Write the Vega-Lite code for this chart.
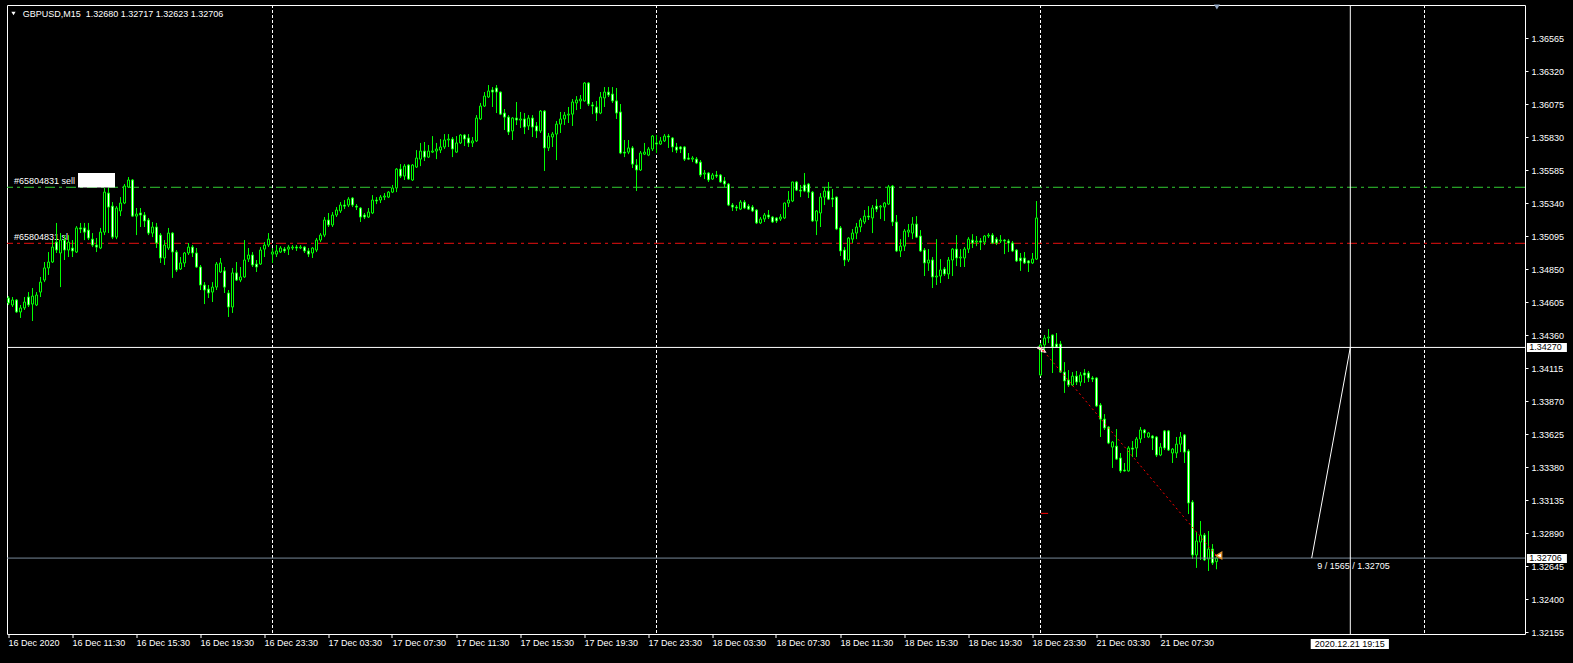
{
"$schema":"https://vega.github.io/schema/vega-lite/v6.json",
"width":1518,"height":629,
"autosize":{"type":"none"},
"padding":{"left":7,"top":5,"right":48,"bottom":29},
"background":"#000000",
"config":{"view":{"stroke":"#ffffff","strokeWidth":1,"fill":"#000000"},"font":"Liberation Sans","axis":{"labelOverlap":false,"labelFlush":false},"scale":{"continuousPadding":0}},
"datasets":{"bars":[
{"i":0,"o":1.34637,"h":1.34651,"l":1.34585,"c":1.34600},
{"i":1,"o":1.34585,"h":1.34644,"l":1.34570,"c":1.34622},
{"i":2,"o":1.34622,"h":1.34629,"l":1.34526,"c":1.34533},
{"i":3,"o":1.34533,"h":1.34585,"l":1.34489,"c":1.34563},
{"i":4,"o":1.34563,"h":1.34644,"l":1.34548,"c":1.34607},
{"i":5,"o":1.34644,"h":1.34681,"l":1.34570,"c":1.34585},
{"i":6,"o":1.34592,"h":1.34711,"l":1.34466,"c":1.34651},
{"i":7,"o":1.34585,"h":1.34681,"l":1.34577,"c":1.34659},
{"i":8,"o":1.34681,"h":1.34793,"l":1.34644,"c":1.34755},
{"i":9,"o":1.34770,"h":1.34904,"l":1.34755,"c":1.34860},
{"i":10,"o":1.34860,"h":1.34978,"l":1.34808,"c":1.34904},
{"i":11,"o":1.34904,"h":1.35067,"l":1.34897,"c":1.35015},
{"i":12,"o":1.35052,"h":1.35194,"l":1.34971,"c":1.34993},
{"i":13,"o":1.34971,"h":1.35119,"l":1.34718,"c":1.35067},
{"i":14,"o":1.35067,"h":1.35104,"l":1.34919,"c":1.34993},
{"i":15,"o":1.34993,"h":1.35104,"l":1.34941,"c":1.35052},
{"i":16,"o":1.35008,"h":1.35067,"l":1.34941,"c":1.34986},
{"i":17,"o":1.34978,"h":1.35171,"l":1.34971,"c":1.35157},
{"i":18,"o":1.35157,"h":1.35194,"l":1.35119,"c":1.35149},
{"i":19,"o":1.35157,"h":1.35194,"l":1.35067,"c":1.35126},
{"i":20,"o":1.35141,"h":1.35194,"l":1.35067,"c":1.35082},
{"i":21,"o":1.35074,"h":1.35119,"l":1.35015,"c":1.35030},
{"i":22,"o":1.35030,"h":1.35082,"l":1.34978,"c":1.35015},
{"i":23,"o":1.35008,"h":1.35157,"l":1.35000,"c":1.35126},
{"i":24,"o":1.35126,"h":1.35454,"l":1.35104,"c":1.35423},
{"i":25,"o":1.35416,"h":1.35454,"l":1.35119,"c":1.35312},
{"i":26,"o":1.35319,"h":1.35349,"l":1.35074,"c":1.35089},
{"i":27,"o":1.35089,"h":1.35319,"l":1.35074,"c":1.35305},
{"i":28,"o":1.35283,"h":1.35386,"l":1.35245,"c":1.35342},
{"i":29,"o":1.35342,"h":1.35483,"l":1.35334,"c":1.35468},
{"i":30,"o":1.35461,"h":1.35535,"l":1.35454,"c":1.35513},
{"i":31,"o":1.35513,"h":1.35520,"l":1.35238,"c":1.35245},
{"i":32,"o":1.35245,"h":1.35305,"l":1.35104,"c":1.35260},
{"i":33,"o":1.35268,"h":1.35305,"l":1.35164,"c":1.35253},
{"i":34,"o":1.35253,"h":1.35275,"l":1.35164,"c":1.35209},
{"i":35,"o":1.35216,"h":1.35231,"l":1.35104,"c":1.35119},
{"i":36,"o":1.35119,"h":1.35201,"l":1.35089,"c":1.35164},
{"i":37,"o":1.35164,"h":1.35194,"l":1.35008,"c":1.35045},
{"i":38,"o":1.35104,"h":1.35119,"l":1.34897,"c":1.34934},
{"i":39,"o":1.34934,"h":1.35067,"l":1.34882,"c":1.35030},
{"i":40,"o":1.35008,"h":1.35157,"l":1.34993,"c":1.35119},
{"i":41,"o":1.35119,"h":1.35126,"l":1.34786,"c":1.34978},
{"i":42,"o":1.34978,"h":1.34993,"l":1.34830,"c":1.34845},
{"i":43,"o":1.34852,"h":1.34941,"l":1.34845,"c":1.34897},
{"i":44,"o":1.34897,"h":1.34978,"l":1.34867,"c":1.34971},
{"i":45,"o":1.34971,"h":1.35045,"l":1.34956,"c":1.35015},
{"i":46,"o":1.35015,"h":1.35030,"l":1.34941,"c":1.34971},
{"i":47,"o":1.34971,"h":1.35008,"l":1.34860,"c":1.34867},
{"i":48,"o":1.34867,"h":1.34882,"l":1.34696,"c":1.34733},
{"i":49,"o":1.34733,"h":1.34755,"l":1.34592,"c":1.34696},
{"i":50,"o":1.34703,"h":1.34733,"l":1.34637,"c":1.34674},
{"i":51,"o":1.34681,"h":1.34755,"l":1.34607,"c":1.34718},
{"i":52,"o":1.34718,"h":1.34904,"l":1.34696,"c":1.34889},
{"i":53,"o":1.34830,"h":1.34934,"l":1.34823,"c":1.34897},
{"i":54,"o":1.34838,"h":1.34867,"l":1.34674,"c":1.34718},
{"i":55,"o":1.34674,"h":1.34696,"l":1.34496,"c":1.34570},
{"i":56,"o":1.34570,"h":1.34860,"l":1.34526,"c":1.34823},
{"i":57,"o":1.34823,"h":1.34904,"l":1.34763,"c":1.34770},
{"i":58,"o":1.34770,"h":1.34867,"l":1.34755,"c":1.34793},
{"i":59,"o":1.34793,"h":1.35067,"l":1.34786,"c":1.34919},
{"i":60,"o":1.34926,"h":1.35008,"l":1.34904,"c":1.34956},
{"i":61,"o":1.34956,"h":1.34978,"l":1.34867,"c":1.34882},
{"i":62,"o":1.34889,"h":1.34919,"l":1.34830,"c":1.34867},
{"i":63,"o":1.34889,"h":1.35015,"l":1.34882,"c":1.34993},
{"i":64,"o":1.35000,"h":1.35052,"l":1.34941,"c":1.35030},
{"i":65,"o":1.35030,"h":1.35119,"l":1.35015,"c":1.35074},
{"i":66,"o":1.34963,"h":1.35008,"l":1.34897,"c":1.34978},
{"i":67,"o":1.34963,"h":1.35030,"l":1.34941,"c":1.34986},
{"i":68,"o":1.34978,"h":1.35022,"l":1.34971,"c":1.35008},
{"i":69,"o":1.35000,"h":1.35015,"l":1.34971,"c":1.34986},
{"i":70,"o":1.35000,"h":1.35030,"l":1.34956,"c":1.35015},
{"i":71,"o":1.35008,"h":1.35030,"l":1.34993,"c":1.35015},
{"i":72,"o":1.35015,"h":1.35030,"l":1.34986,"c":1.35008},
{"i":73,"o":1.35008,"h":1.35030,"l":1.35000,"c":1.35015},
{"i":74,"o":1.35015,"h":1.35022,"l":1.34971,"c":1.34986},
{"i":75,"o":1.34986,"h":1.35008,"l":1.34941,"c":1.34963},
{"i":76,"o":1.34971,"h":1.35015,"l":1.34934,"c":1.35008},
{"i":77,"o":1.34993,"h":1.35082,"l":1.34978,"c":1.35067},
{"i":78,"o":1.35067,"h":1.35119,"l":1.35052,"c":1.35104},
{"i":79,"o":1.35104,"h":1.35238,"l":1.35089,"c":1.35216},
{"i":80,"o":1.35216,"h":1.35268,"l":1.35164,"c":1.35179},
{"i":81,"o":1.35179,"h":1.35275,"l":1.35164,"c":1.35253},
{"i":82,"o":1.35253,"h":1.35312,"l":1.35238,"c":1.35290},
{"i":83,"o":1.35283,"h":1.35349,"l":1.35268,"c":1.35327},
{"i":84,"o":1.35327,"h":1.35364,"l":1.35297,"c":1.35319},
{"i":85,"o":1.35327,"h":1.35386,"l":1.35312,"c":1.35371},
{"i":86,"o":1.35379,"h":1.35386,"l":1.35312,"c":1.35327},
{"i":87,"o":1.35319,"h":1.35334,"l":1.35290,"c":1.35312},
{"i":88,"o":1.35305,"h":1.35312,"l":1.35201,"c":1.35238},
{"i":89,"o":1.35253,"h":1.35268,"l":1.35223,"c":1.35238},
{"i":90,"o":1.35238,"h":1.35305,"l":1.35231,"c":1.35275},
{"i":91,"o":1.35268,"h":1.35401,"l":1.35260,"c":1.35364},
{"i":92,"o":1.35364,"h":1.35386,"l":1.35334,"c":1.35357},
{"i":93,"o":1.35364,"h":1.35401,"l":1.35342,"c":1.35386},
{"i":94,"o":1.35386,"h":1.35416,"l":1.35364,"c":1.35394},
{"i":95,"o":1.35386,"h":1.35431,"l":1.35379,"c":1.35423},
{"i":96,"o":1.35423,"h":1.35476,"l":1.35416,"c":1.35454},
{"i":97,"o":1.35454,"h":1.35602,"l":1.35423,"c":1.35594},
{"i":98,"o":1.35594,"h":1.35631,"l":1.35528,"c":1.35542},
{"i":99,"o":1.35542,"h":1.35631,"l":1.35513,"c":1.35616},
{"i":100,"o":1.35624,"h":1.35630,"l":1.35513,"c":1.35520},
{"i":101,"o":1.35513,"h":1.35631,"l":1.35506,"c":1.35624},
{"i":102,"o":1.35609,"h":1.35735,"l":1.35602,"c":1.35676},
{"i":103,"o":1.35668,"h":1.35788,"l":1.35616,"c":1.35728},
{"i":104,"o":1.35728,"h":1.35795,"l":1.35654,"c":1.35683},
{"i":105,"o":1.35683,"h":1.35773,"l":1.35676,"c":1.35728},
{"i":106,"o":1.35720,"h":1.35839,"l":1.35713,"c":1.35728},
{"i":107,"o":1.35728,"h":1.35788,"l":1.35668,"c":1.35743},
{"i":108,"o":1.35735,"h":1.35817,"l":1.35713,"c":1.35758},
{"i":109,"o":1.35758,"h":1.35854,"l":1.35743,"c":1.35810},
{"i":110,"o":1.35810,"h":1.35854,"l":1.35758,"c":1.35817},
{"i":111,"o":1.35817,"h":1.35832,"l":1.35683,"c":1.35743},
{"i":112,"o":1.35720,"h":1.35839,"l":1.35715,"c":1.35788},
{"i":113,"o":1.35788,"h":1.35854,"l":1.35780,"c":1.35847},
{"i":114,"o":1.35847,"h":1.35854,"l":1.35765,"c":1.35817},
{"i":115,"o":1.35825,"h":1.35854,"l":1.35758,"c":1.35788},
{"i":116,"o":1.35788,"h":1.35832,"l":1.35758,"c":1.35803},
{"i":117,"o":1.35803,"h":1.35995,"l":1.35795,"c":1.35973},
{"i":118,"o":1.35966,"h":1.36085,"l":1.35958,"c":1.36062},
{"i":119,"o":1.36062,"h":1.36166,"l":1.36055,"c":1.36136},
{"i":120,"o":1.36129,"h":1.36218,"l":1.36122,"c":1.36174},
{"i":121,"o":1.36181,"h":1.36203,"l":1.36055,"c":1.36166},
{"i":122,"o":1.36196,"h":1.36218,"l":1.36010,"c":1.36166},
{"i":123,"o":1.36166,"h":1.36170,"l":1.35995,"c":1.36002},
{"i":124,"o":1.36010,"h":1.36040,"l":1.35884,"c":1.35980},
{"i":125,"o":1.35980,"h":1.35995,"l":1.35847,"c":1.35869},
{"i":126,"o":1.35877,"h":1.35980,"l":1.35810,"c":1.35973},
{"i":127,"o":1.35973,"h":1.36092,"l":1.35921,"c":1.35958},
{"i":128,"o":1.35958,"h":1.36018,"l":1.35899,"c":1.35966},
{"i":129,"o":1.35966,"h":1.36010,"l":1.35854,"c":1.35906},
{"i":130,"o":1.35914,"h":1.35995,"l":1.35884,"c":1.35973},
{"i":131,"o":1.35973,"h":1.35995,"l":1.35832,"c":1.35906},
{"i":132,"o":1.35914,"h":1.35943,"l":1.35825,"c":1.35877},
{"i":133,"o":1.35877,"h":1.36032,"l":1.35862,"c":1.36025},
{"i":134,"o":1.36025,"h":1.36032,"l":1.35580,"c":1.35751},
{"i":135,"o":1.35751,"h":1.35862,"l":1.35728,"c":1.35839},
{"i":136,"o":1.35832,"h":1.35869,"l":1.35758,"c":1.35854},
{"i":137,"o":1.35854,"h":1.35951,"l":1.35661,"c":1.35928},
{"i":138,"o":1.35928,"h":1.36018,"l":1.35862,"c":1.35966},
{"i":139,"o":1.35966,"h":1.36018,"l":1.35921,"c":1.35995},
{"i":140,"o":1.35995,"h":1.36055,"l":1.35936,"c":1.36002},
{"i":141,"o":1.36002,"h":1.36114,"l":1.35914,"c":1.36092},
{"i":142,"o":1.36085,"h":1.36136,"l":1.36032,"c":1.36107},
{"i":143,"o":1.36100,"h":1.36144,"l":1.36040,"c":1.36114},
{"i":144,"o":1.36100,"h":1.36240,"l":1.36095,"c":1.36233},
{"i":145,"o":1.36233,"h":1.36240,"l":1.36062,"c":1.36077},
{"i":146,"o":1.36070,"h":1.36092,"l":1.36002,"c":1.36062},
{"i":147,"o":1.36055,"h":1.36100,"l":1.35951,"c":1.36010},
{"i":148,"o":1.36010,"h":1.36166,"l":1.36002,"c":1.36129},
{"i":149,"o":1.36122,"h":1.36203,"l":1.36055,"c":1.36166},
{"i":150,"o":1.36166,"h":1.36203,"l":1.36129,"c":1.36144},
{"i":151,"o":1.36151,"h":1.36203,"l":1.36085,"c":1.36100},
{"i":152,"o":1.36100,"h":1.36196,"l":1.35966,"c":1.36010},
{"i":153,"o":1.36018,"h":1.36077,"l":1.35705,"c":1.35713},
{"i":154,"o":1.35720,"h":1.35810,"l":1.35683,"c":1.35713},
{"i":155,"o":1.35720,"h":1.35810,"l":1.35705,"c":1.35751},
{"i":156,"o":1.35751,"h":1.35765,"l":1.35602,"c":1.35631},
{"i":157,"o":1.35624,"h":1.35668,"l":1.35431,"c":1.35587},
{"i":158,"o":1.35587,"h":1.35728,"l":1.35580,"c":1.35713},
{"i":159,"o":1.35705,"h":1.35788,"l":1.35698,"c":1.35720},
{"i":160,"o":1.35698,"h":1.35758,"l":1.35690,"c":1.35743},
{"i":161,"o":1.35743,"h":1.35847,"l":1.35728,"c":1.35839},
{"i":162,"o":1.35788,"h":1.35847,"l":1.35713,"c":1.35780},
{"i":163,"o":1.35780,"h":1.35832,"l":1.35773,"c":1.35803},
{"i":164,"o":1.35803,"h":1.35854,"l":1.35795,"c":1.35839},
{"i":165,"o":1.35839,"h":1.35854,"l":1.35751,"c":1.35832},
{"i":166,"o":1.35825,"h":1.35832,"l":1.35720,"c":1.35758},
{"i":167,"o":1.35758,"h":1.35788,"l":1.35713,"c":1.35735},
{"i":168,"o":1.35758,"h":1.35765,"l":1.35713,"c":1.35743},
{"i":169,"o":1.35758,"h":1.35765,"l":1.35654,"c":1.35668},
{"i":170,"o":1.35676,"h":1.35713,"l":1.35661,"c":1.35668},
{"i":171,"o":1.35668,"h":1.35690,"l":1.35646,"c":1.35676},
{"i":172,"o":1.35668,"h":1.35683,"l":1.35631,"c":1.35639},
{"i":173,"o":1.35646,"h":1.35661,"l":1.35535,"c":1.35550},
{"i":174,"o":1.35557,"h":1.35587,"l":1.35520,"c":1.35565},
{"i":175,"o":1.35565,"h":1.35572,"l":1.35498,"c":1.35513},
{"i":176,"o":1.35520,"h":1.35565,"l":1.35513,"c":1.35550},
{"i":177,"o":1.35550,"h":1.35580,"l":1.35528,"c":1.35542},
{"i":178,"o":1.35550,"h":1.35557,"l":1.35491,"c":1.35498},
{"i":179,"o":1.35506,"h":1.35535,"l":1.35461,"c":1.35483},
{"i":180,"o":1.35483,"h":1.35491,"l":1.35319,"c":1.35327},
{"i":181,"o":1.35327,"h":1.35342,"l":1.35283,"c":1.35312},
{"i":182,"o":1.35312,"h":1.35327,"l":1.35283,"c":1.35305},
{"i":183,"o":1.35297,"h":1.35364,"l":1.35290,"c":1.35349},
{"i":184,"o":1.35349,"h":1.35364,"l":1.35297,"c":1.35305},
{"i":185,"o":1.35319,"h":1.35334,"l":1.35290,"c":1.35297},
{"i":186,"o":1.35312,"h":1.35327,"l":1.35275,"c":1.35283},
{"i":187,"o":1.35290,"h":1.35297,"l":1.35186,"c":1.35194},
{"i":188,"o":1.35194,"h":1.35238,"l":1.35186,"c":1.35223},
{"i":189,"o":1.35223,"h":1.35268,"l":1.35201,"c":1.35253},
{"i":190,"o":1.35253,"h":1.35290,"l":1.35223,"c":1.35238},
{"i":191,"o":1.35238,"h":1.35245,"l":1.35194,"c":1.35201},
{"i":192,"o":1.35231,"h":1.35238,"l":1.35194,"c":1.35209},
{"i":193,"o":1.35223,"h":1.35260,"l":1.35209,"c":1.35238},
{"i":194,"o":1.35231,"h":1.35345,"l":1.35223,"c":1.35342},
{"i":195,"o":1.35342,"h":1.35431,"l":1.35312,"c":1.35364},
{"i":196,"o":1.35357,"h":1.35500,"l":1.35349,"c":1.35498},
{"i":197,"o":1.35498,"h":1.35506,"l":1.35431,"c":1.35438},
{"i":198,"o":1.35438,"h":1.35476,"l":1.35386,"c":1.35431},
{"i":199,"o":1.35476,"h":1.35565,"l":1.35423,"c":1.35431},
{"i":200,"o":1.35483,"h":1.35491,"l":1.35379,"c":1.35423},
{"i":201,"o":1.35423,"h":1.35431,"l":1.35201,"c":1.35209},
{"i":202,"o":1.35209,"h":1.35290,"l":1.35104,"c":1.35283},
{"i":203,"o":1.35268,"h":1.35416,"l":1.35164,"c":1.35386},
{"i":204,"o":1.35386,"h":1.35461,"l":1.35327,"c":1.35431},
{"i":205,"o":1.35431,"h":1.35498,"l":1.35364,"c":1.35371},
{"i":206,"o":1.35379,"h":1.35446,"l":1.35312,"c":1.35371},
{"i":207,"o":1.35386,"h":1.35390,"l":1.35141,"c":1.35149},
{"i":208,"o":1.35157,"h":1.35171,"l":1.34949,"c":1.34986},
{"i":209,"o":1.34993,"h":1.35015,"l":1.34874,"c":1.34919},
{"i":210,"o":1.34919,"h":1.35089,"l":1.34904,"c":1.35082},
{"i":211,"o":1.35074,"h":1.35149,"l":1.35045,"c":1.35119},
{"i":212,"o":1.35119,"h":1.35194,"l":1.35074,"c":1.35164},
{"i":213,"o":1.35164,"h":1.35231,"l":1.35126,"c":1.35216},
{"i":214,"o":1.35201,"h":1.35290,"l":1.35186,"c":1.35245},
{"i":215,"o":1.35245,"h":1.35319,"l":1.35216,"c":1.35238},
{"i":216,"o":1.35231,"h":1.35327,"l":1.35119,"c":1.35305},
{"i":217,"o":1.35319,"h":1.35371,"l":1.35275,"c":1.35297},
{"i":218,"o":1.35312,"h":1.35327,"l":1.35223,"c":1.35319},
{"i":219,"o":1.35312,"h":1.35349,"l":1.35209,"c":1.35342},
{"i":220,"o":1.35334,"h":1.35476,"l":1.35327,"c":1.35461},
{"i":221,"o":1.35468,"h":1.35476,"l":1.35171,"c":1.35201},
{"i":222,"o":1.35201,"h":1.35253,"l":1.34978,"c":1.34986},
{"i":223,"o":1.34986,"h":1.35074,"l":1.34941,"c":1.35022},
{"i":224,"o":1.35022,"h":1.35149,"l":1.34986,"c":1.35134},
{"i":225,"o":1.35126,"h":1.35186,"l":1.35089,"c":1.35141},
{"i":226,"o":1.35119,"h":1.35238,"l":1.35074,"c":1.35186},
{"i":227,"o":1.35186,"h":1.35245,"l":1.35082,"c":1.35089},
{"i":228,"o":1.35097,"h":1.35141,"l":1.34978,"c":1.34986},
{"i":229,"o":1.34993,"h":1.35008,"l":1.34800,"c":1.34897},
{"i":230,"o":1.34897,"h":1.35000,"l":1.34838,"c":1.34919},
{"i":231,"o":1.34919,"h":1.34941,"l":1.34711,"c":1.34793},
{"i":232,"o":1.34793,"h":1.35074,"l":1.34733,"c":1.34800},
{"i":233,"o":1.34800,"h":1.34926,"l":1.34748,"c":1.34845},
{"i":234,"o":1.34852,"h":1.34867,"l":1.34800,"c":1.34815},
{"i":235,"o":1.34815,"h":1.34941,"l":1.34778,"c":1.34919},
{"i":236,"o":1.34919,"h":1.35008,"l":1.34800,"c":1.35000},
{"i":237,"o":1.35000,"h":1.35104,"l":1.34874,"c":1.34934},
{"i":238,"o":1.34934,"h":1.35000,"l":1.34867,"c":1.34941},
{"i":239,"o":1.34934,"h":1.35015,"l":1.34867,"c":1.35000},
{"i":240,"o":1.35000,"h":1.35089,"l":1.34971,"c":1.35074},
{"i":241,"o":1.35067,"h":1.35111,"l":1.35008,"c":1.35045},
{"i":242,"o":1.35052,"h":1.35097,"l":1.35022,"c":1.35060},
{"i":243,"o":1.35060,"h":1.35082,"l":1.34993,"c":1.35052},
{"i":244,"o":1.35052,"h":1.35104,"l":1.35030,"c":1.35097},
{"i":245,"o":1.35097,"h":1.35119,"l":1.35082,"c":1.35104},
{"i":246,"o":1.35104,"h":1.35119,"l":1.35037,"c":1.35045},
{"i":247,"o":1.35074,"h":1.35089,"l":1.35030,"c":1.35045},
{"i":248,"o":1.35060,"h":1.35104,"l":1.35045,"c":1.35067},
{"i":249,"o":1.35067,"h":1.35074,"l":1.34963,"c":1.35060},
{"i":250,"o":1.35060,"h":1.35074,"l":1.34978,"c":1.35045},
{"i":251,"o":1.35045,"h":1.35060,"l":1.34978,"c":1.34986},
{"i":252,"o":1.34993,"h":1.35000,"l":1.34904,"c":1.34912},
{"i":253,"o":1.34934,"h":1.34971,"l":1.34838,"c":1.34912},
{"i":254,"o":1.34934,"h":1.34978,"l":1.34889,"c":1.34897},
{"i":255,"o":1.34912,"h":1.34919,"l":1.34830,"c":1.34897},
{"i":256,"o":1.34897,"h":1.34971,"l":1.34889,"c":1.34926},
{"i":257,"o":1.34926,"h":1.35357,"l":1.34919,"c":1.35231},
{"i":258,"o":1.34065,"h":1.34303,"l":1.34057,"c":1.34288},
{"i":259,"o":1.34288,"h":1.34362,"l":1.34229,"c":1.34340},
{"i":260,"o":1.34340,"h":1.34406,"l":1.34303,"c":1.34347},
{"i":261,"o":1.34362,"h":1.34366,"l":1.34080,"c":1.34273},
{"i":262,"o":1.34295,"h":1.34377,"l":1.34266,"c":1.34273},
{"i":263,"o":1.34295,"h":1.34318,"l":1.34080,"c":1.34087},
{"i":264,"o":1.34087,"h":1.34161,"l":1.33932,"c":1.34021},
{"i":265,"o":1.34028,"h":1.34102,"l":1.33976,"c":1.33991},
{"i":266,"o":1.33991,"h":1.34087,"l":1.33983,"c":1.34057},
{"i":267,"o":1.34057,"h":1.34095,"l":1.33991,"c":1.34013},
{"i":268,"o":1.34013,"h":1.34087,"l":1.33983,"c":1.34065},
{"i":269,"o":1.34080,"h":1.34109,"l":1.34006,"c":1.34065},
{"i":270,"o":1.34080,"h":1.34095,"l":1.34013,"c":1.34043},
{"i":271,"o":1.34043,"h":1.34057,"l":1.34013,"c":1.34035},
{"i":272,"o":1.34043,"h":1.34050,"l":1.33827,"c":1.33835},
{"i":273,"o":1.33842,"h":1.33857,"l":1.33605,"c":1.33738},
{"i":274,"o":1.33738,"h":1.33775,"l":1.33657,"c":1.33672},
{"i":275,"o":1.33679,"h":1.33686,"l":1.33552,"c":1.33560},
{"i":276,"o":1.33530,"h":1.33575,"l":1.33375,"c":1.33567},
{"i":277,"o":1.33537,"h":1.33664,"l":1.33434,"c":1.33441},
{"i":278,"o":1.33449,"h":1.33486,"l":1.33338,"c":1.33353},
{"i":279,"o":1.33360,"h":1.33412,"l":1.33348,"c":1.33353},
{"i":280,"o":1.33353,"h":1.33537,"l":1.33348,"c":1.33523},
{"i":281,"o":1.33523,"h":1.33575,"l":1.33456,"c":1.33515},
{"i":282,"o":1.33523,"h":1.33605,"l":1.33456,"c":1.33590},
{"i":283,"o":1.33590,"h":1.33679,"l":1.33560,"c":1.33657},
{"i":284,"o":1.33657,"h":1.33664,"l":1.33597,"c":1.33635},
{"i":285,"o":1.33605,"h":1.33642,"l":1.33597,"c":1.33635},
{"i":286,"o":1.33612,"h":1.33620,"l":1.33508,"c":1.33597},
{"i":287,"o":1.33605,"h":1.33612,"l":1.33456,"c":1.33471},
{"i":288,"o":1.33471,"h":1.33560,"l":1.33463,"c":1.33530},
{"i":289,"o":1.33650,"h":1.33657,"l":1.33508,"c":1.33523},
{"i":290,"o":1.33650,"h":1.33657,"l":1.33501,"c":1.33508},
{"i":291,"o":1.33486,"h":1.33523,"l":1.33412,"c":1.33515},
{"i":292,"o":1.33486,"h":1.33605,"l":1.33449,"c":1.33552},
{"i":293,"o":1.33552,"h":1.33642,"l":1.33493,"c":1.33605},
{"i":294,"o":1.33620,"h":1.33627,"l":1.33412,"c":1.33493},
{"i":295,"o":1.33501,"h":1.33515,"l":1.33033,"c":1.33115},
{"i":296,"o":1.33122,"h":1.33137,"l":1.32699,"c":1.32729},
{"i":297,"o":1.32729,"h":1.32899,"l":1.32633,"c":1.32833},
{"i":298,"o":1.32825,"h":1.32981,"l":1.32692,"c":1.32877},
{"i":299,"o":1.32877,"h":1.32892,"l":1.32685,"c":1.32692},
{"i":300,"o":1.32699,"h":1.32907,"l":1.32610,"c":1.32773},
{"i":301,"o":1.32773,"h":1.32810,"l":1.32655,"c":1.32670},
{"i":302,"o":1.32680,"h":1.32717,"l":1.32623,"c":1.32706}
]},
"layer":[
{"data":{"values":[{"i":66},{"i":162},{"i":258},{"i":354}]},
 "mark":{"type":"rule","color":"#ffffff","strokeDash":[3,2],"strokeWidth":1},
 "encoding":{"x":{"field":"i","type":"quantitative","scale":{"domain":[-0.375,379.125],"nice":false,"zero":false,"padding":0}}}},
{"data":{"values":[{"p":1.35459}]},
 "mark":{"type":"rule","color":"#32cd32","strokeDash":[10,4,3,4],"strokeWidth":1},
 "encoding":{"y":{"field":"p","type":"quantitative","scale":{"domain":[1.321424,1.368122],"nice":false,"zero":false,"padding":0}}}},
{"data":{"values":[{"p":1.35043}]},
 "mark":{"type":"rule","color":"#e81010","strokeDash":[10,4,3,4],"strokeWidth":1},
 "encoding":{"y":{"field":"p","type":"quantitative"}}},
{"data":{"values":[{"p":1.35459,"t":"#65804831 sell"},{"p":1.35043,"t":"#65804831 sl"}]},
 "mark":{"type":"text","align":"left","baseline":"alphabetic","dy":-3,"color":"#ffffff","fontSize":9,"font":"Liberation Sans"},
 "encoding":{"x":{"datum":1.375,"type":"quantitative"},"y":{"field":"p","type":"quantitative"},"text":{"field":"t"}}},
{"data":{"values":[{}]},
 "mark":{"type":"rect","color":"#ffffff"},
 "encoding":{"x":{"datum":17.375,"type":"quantitative"},"x2":{"datum":26.625},"y":{"datum":1.35565,"type":"quantitative"},"y2":{"datum":1.35457}}},
{"data":{"name":"bars"},
 "mark":{"type":"rule","color":"#00ff00","strokeWidth":1},
 "encoding":{"x":{"field":"i","type":"quantitative"},"y":{"field":"l","type":"quantitative"},"y2":{"field":"h"}}},
{"data":{"name":"bars"},
 "mark":{"type":"bar","width":2,"stroke":"#00ff00","strokeWidth":1,"opacity":1},
 "encoding":{
  "x":{"field":"i","type":"quantitative","scale":{"domain":[-0.375,379.125],"nice":false,"zero":false,"padding":0},
   "axis":{"orient":"bottom","title":null,"values":[0,16,32,48,64,80,96,112,128,144,160,176,192,208,224,240,256,272,288],"tickCount":50,
    "labelExpr":"['16 Dec 2020','16 Dec 11:30','16 Dec 15:30','16 Dec 19:30','16 Dec 23:30','17 Dec 03:30','17 Dec 07:30','17 Dec 11:30','17 Dec 15:30','17 Dec 19:30','17 Dec 23:30','18 Dec 03:30','18 Dec 07:30','18 Dec 11:30','18 Dec 15:30','18 Dec 19:30','18 Dec 23:30','21 Dec 03:30','21 Dec 07:30'][round(datum.value/16)]",
    "labelAlign":"left","labelBaseline":"top","labelPadding":1,"tickSize":4,"tickColor":"#ffffff","labelColor":"#ffffff","labelFont":"Liberation Sans","labelFontSize":9,"domain":false,"grid":false,"labelOverlap":false,"labelFlush":false,"translate":0}},
  "y":{"field":"o","type":"quantitative","scale":{"domain":[1.321424,1.368122],"nice":false,"zero":false,"padding":0},
   "axis":{"orient":"right","title":null,"values":[1.32155,1.324,1.32645,1.3289,1.33135,1.3338,1.33625,1.3387,1.34115,1.3436,1.34605,1.3485,1.35095,1.3534,1.35585,1.3583,1.36075,1.3632,1.36565],"tickCount":50,
    "format":".5f","labelColor":"#ffffff","labelFont":"Liberation Sans","labelFontSize":9,"tickColor":"#ffffff","tickSize":3,"labelPadding":3,"domain":false,"grid":false,"labelOverlap":false,"labelFlush":false,"labelBound":false}},
  "y2":{"field":"c"},
  "fill":{"condition":{"test":"datum.c < datum.o","value":"#ffffff"},"value":"#000000"}}},
{"data":{"values":[{"p":1.32706}]},
 "mark":{"type":"rule","color":"#778899","strokeWidth":1},
 "encoding":{"y":{"field":"p","type":"quantitative"}}},
{"data":{"values":[{"p":1.3427}]},
 "mark":{"type":"rule","color":"#ffffff","strokeWidth":1},
 "encoding":{"y":{"field":"p","type":"quantitative"}}},
{"data":{"values":[{"i":335.45}]},
 "mark":{"type":"rule","color":"#ffffff","strokeWidth":1},
 "encoding":{"x":{"field":"i","type":"quantitative"}}},
{"data":{"values":[{"i":325.8,"p":1.32706},{"i":335.45,"p":1.3427}]},
 "mark":{"type":"line","color":"#ffffff","strokeWidth":1},
 "encoding":{"x":{"field":"i","type":"quantitative"},"y":{"field":"p","type":"quantitative"}}},
{"data":{"values":[{"i":258,"p":1.3427},{"i":302.5,"p":1.32706}]},
 "mark":{"type":"line","color":"#ff0000","strokeDash":[2,3],"strokeWidth":1},
 "encoding":{"x":{"field":"i","type":"quantitative"},"y":{"field":"p","type":"quantitative"}}},
{"data":{"values":[{}]},
 "mark":{"type":"rule","color":"#ff0000","strokeWidth":1},
 "encoding":{"x":{"datum":258.1,"type":"quantitative"},"x2":{"datum":259.9},"y":{"datum":1.33038,"type":"quantitative"}}},
{"data":{"values":[{}]},
 "mark":{"type":"point","shape":"arrow","angle":120,"filled":true,"fill":"#ff0000","stroke":"#ffffff","strokeWidth":1,"size":80,"opacity":1},
 "encoding":{"x":{"datum":258.3,"type":"quantitative"},"y":{"datum":1.34252,"type":"quantitative"}}},
{"data":{"values":[{}]},
 "mark":{"type":"point","shape":"triangle-left","filled":true,"fill":"#ffffff","stroke":"#e0902c","strokeWidth":1.5,"size":40,"opacity":1},
 "encoding":{"x":{"datum":302.6,"type":"quantitative"},"y":{"datum":1.32725,"type":"quantitative"}}},
{"data":{"values":[{}]},
 "mark":{"type":"point","shape":"triangle-down","filled":true,"fill":"#8fa3bf","strokeWidth":0,"size":35,"opacity":1},
 "encoding":{"x":{"datum":302.1,"type":"quantitative"},"y":{"datum":1.36797,"type":"quantitative"}}},
{"data":{"values":[{}]},
 "mark":{"type":"point","shape":"triangle-down","filled":true,"fill":"#ffffff","strokeWidth":0,"size":18,"opacity":1},
 "encoding":{"x":{"datum":1.25,"type":"quantitative"},"y":{"datum":1.36749,"type":"quantitative"}}},
{"data":{"values":[{}]},
 "mark":{"type":"text","align":"left","baseline":"middle","color":"#ffffff","fontSize":9,"font":"Liberation Sans","text":"GBPUSD,M15\u00a0\u00a01.32680 1.32717 1.32623 1.32706"},
 "encoding":{"x":{"datum":3.55,"type":"quantitative"},"y":{"datum":1.36747,"type":"quantitative"}}},
{"data":{"values":[{}]},
 "mark":{"type":"text","align":"center","baseline":"middle","color":"#ffffff","fontSize":9,"font":"Liberation Sans","text":"9 / 1565 / 1.32705"},
 "encoding":{"x":{"datum":336.25,"type":"quantitative"},"y":{"datum":1.32647,"type":"quantitative"}}},
{"data":{"values":[{"y":1.34303,"y2":1.34236},{"y":1.32736,"y2":1.32669}]},
 "mark":{"type":"rect","color":"#ffffff"},
 "encoding":{"x":{"datum":379.6,"type":"quantitative"},"x2":{"datum":389.6},"y":{"field":"y","type":"quantitative"},"y2":{"field":"y2"}}},
{"data":{"values":[{"p":1.3427,"t":"1.34270"},{"p":1.32706,"t":"1.32706"}]},
 "mark":{"type":"text","align":"left","baseline":"middle","color":"#000000","fontSize":9,"font":"Liberation Sans"},
 "encoding":{"x":{"datum":380.2,"type":"quantitative"},"y":{"field":"p","type":"quantitative"},"text":{"field":"t"}}},
{"data":{"values":[{}]},
 "mark":{"type":"rect","color":"#ffffff"},
 "encoding":{"x":{"datum":325.55,"type":"quantitative"},"x2":{"datum":345.1},"y":{"datum":1.32105,"type":"quantitative"},"y2":{"datum":1.32031}}},
{"data":{"values":[{}]},
 "mark":{"type":"text","align":"center","baseline":"middle","color":"#000000","fontSize":9,"font":"Liberation Sans","text":"2020.12.21 19:15"},
 "encoding":{"x":{"datum":335.33,"type":"quantitative"},"y":{"datum":1.32068,"type":"quantitative"}}}
]
}
